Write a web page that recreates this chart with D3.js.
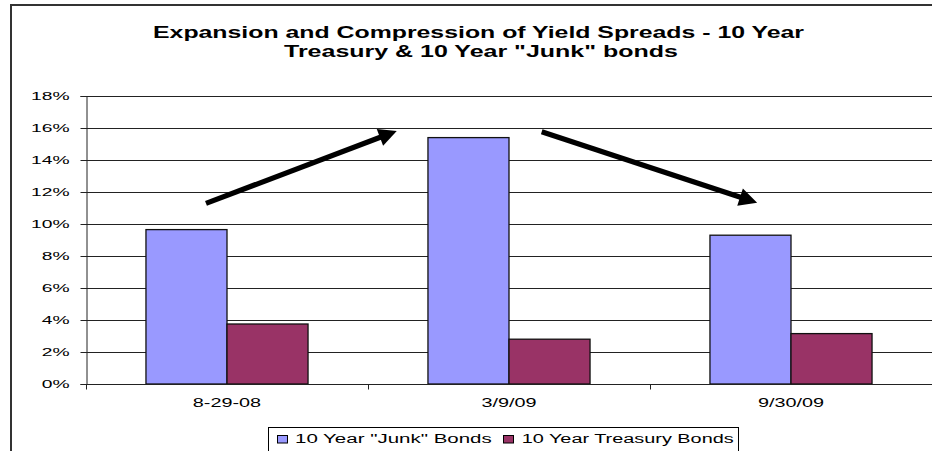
<!DOCTYPE html>
<html>
<head>
<meta charset="utf-8">
<script src="https://cdn.jsdelivr.net/npm/d3@7"></script>
<style>
  html, body { margin: 0; padding: 0; background: #fff; }
  svg { display: block; font-family: "Liberation Sans", Arial, sans-serif; }
</style>
</head>
<body>
<svg id="chart" width="932" height="451"></svg>
<script>
// ---- data ----
const categories = ["8-29-08", "3/9/09", "9/30/09"];
const seriesNames = ["10 Year \"Junk\" Bonds", "10 Year Treasury Bonds"];
const junkValues = [0.0965, 0.154, 0.093];
const treasuryValues = [0.0375, 0.028, 0.0315];
const yTicks = [0, 0.02, 0.04, 0.06, 0.08, 0.10, 0.12, 0.14, 0.16, 0.18];
const titleLines = ["Expansion and Compression of Yield Spreads - 10 Year", "Treasury & 10 Year \"Junk\" bonds"];
// annotation arrows in data space: [category position, value]
const arrowUp = [[0.4255, 0.1129], [1.102, 0.1581]];
const arrowDown = [[1.616, 0.1577], [2.380, 0.1133]];

const colors = ["#9999FF", "#993366"];

const svg = d3.select("#chart");

function stretch(sel, k) {
  sel.each(function () {
    const w = this.getComputedTextLength();
    d3.select(this).attr("textLength", w * k).attr("lengthAdjust", "spacingAndGlyphs");
  });
}

// outer frame (only top and left edges visible)
svg.append("rect")
  .attr("x", 11).attr("y", 5).attr("width", 1000).attr("height", 600)
  .attr("fill", "none").attr("stroke", "#333").attr("stroke-width", 2);

// scales
const x0 = d3.scaleBand().domain(categories).range([86, 932]).paddingInner(0).paddingOuter(0);
const x1 = d3.scaleBand().domain(seriesNames).range([0, x0.bandwidth()]).paddingInner(0).paddingOuter(0.74);
const xPos = d3.scaleLinear().domain([0, categories.length]).range([86, 932]);
const y = d3.scaleLinear().domain([0, 0.18]).range([384, 96]);

// gridlines
svg.append("g").selectAll("line").data(yTicks.slice(1)).join("line")
  .attr("x1", 86).attr("x2", 932)
  .attr("y1", d => Math.round(y(d)) + 0.5).attr("y2", d => Math.round(y(d)) + 0.5)
  .attr("stroke", "#222").attr("stroke-width", 1);

// bars
const rows = categories.map((c, i) => ({ cat: c, vals: [junkValues[i], treasuryValues[i]] }));
const grp = svg.append("g").selectAll("g").data(rows).join("g")
  .attr("transform", d => `translate(${x0(d.cat)},0)`);
grp.selectAll("rect").data(d => d.vals.map((v, j) => ({ name: seriesNames[j], v, j }))).join("rect")
  .attr("x", d => x1(d.name))
  .attr("y", d => y(d.v))
  .attr("width", x1.bandwidth())
  .attr("height", d => y(0) - y(d.v))
  .attr("fill", d => colors[d.j])
  .attr("stroke", "#111").attr("stroke-width", 1.3);

// y axis
const yAxis = svg.append("g").attr("transform", "translate(86.5,0)")
  .call(d3.axisLeft(y).tickValues(yTicks).tickFormat(d3.format(".0%")).tickSize(6).tickPadding(11));
yAxis.select(".domain").attr("stroke", "#222");
yAxis.selectAll(".tick line").attr("stroke", "#222");
yAxis.selectAll("text").attr("font-size", "11.6px").attr("fill", "#000")
  .attr("font-family", "'Liberation Sans', Arial, sans-serif");
stretch(yAxis.selectAll("text"), 1.66);

// x axis
const xAxis = svg.append("g").attr("transform", "translate(0,384.5)");
xAxis.append("line").attr("x1", 86).attr("x2", 932).attr("y1", 0).attr("y2", 0).attr("stroke", "#222");
xAxis.selectAll(".sep").data(d3.range(categories.length + 1)).join("line")
  .attr("class", "sep")
  .attr("x1", d => Math.round(xPos(d)) + 0.5).attr("x2", d => Math.round(xPos(d)) + 0.5)
  .attr("y1", 0).attr("y2", 5).attr("stroke", "#222");
const catLabels = xAxis.selectAll(".cat").data(categories).join("text")
  .attr("class", "cat")
  .attr("x", d => x0(d) + x0.bandwidth() / 2)
  .attr("y", 22.5)
  .attr("text-anchor", "middle")
  .attr("font-size", "12px")
  .text(d => d);
stretch(catLabels, 1.65);

// title
const titleWidths = [651, 394];
const titleX = [153, 284];
svg.append("g").selectAll("text").data(titleLines).join("text")
  .attr("x", (d, i) => titleX[i])
  .attr("y", (d, i) => 38 + i * 18.5)
  .attr("font-size", "16.5px").attr("font-weight", "bold")
  .attr("textLength", (d, i) => titleWidths[i]).attr("lengthAdjust", "spacingAndGlyphs")
  .text(d => d);

// arrows
[arrowUp, arrowDown].forEach(a => {
  const p0 = [xPos(a[0][0]), y(a[0][1])];
  const p1 = [xPos(a[1][0]), y(a[1][1])];
  const dx = p1[0] - p0[0], dy = p1[1] - p0[1];
  const L = Math.hypot(dx, dy);
  const s = (L - 12) / L;
  svg.append("line")
    .attr("x1", p0[0]).attr("y1", p0[1])
    .attr("x2", p0[0] + dx * s).attr("y2", p0[1] + dy * s)
    .attr("stroke", "#000").attr("stroke-width", 5.2);
  const ang = Math.atan2(dy, dx);
  const hl = 18, hw = 9;
  const bx = p1[0] - Math.cos(ang) * hl, by = p1[1] - Math.sin(ang) * hl;
  const nx = -Math.sin(ang), ny = Math.cos(ang);
  svg.append("path")
    .attr("d", `M${p1[0]},${p1[1]} L${bx + nx * hw},${by + ny * hw} L${bx - nx * hw},${by - ny * hw} Z`)
    .attr("fill", "#000");
});

// legend
const lg = svg.append("g");
lg.append("rect").attr("x", 268.5).attr("y", 427.5).attr("width", 470).attr("height", 30)
  .attr("fill", "#fff").attr("stroke", "#000").attr("stroke-width", 1);
const swX = [277, 503];
const txX = [295, 521.7];
const txW = [196.7, 212];
seriesNames.forEach((n, i) => {
  lg.append("rect").attr("x", swX[i] + 0.5).attr("y", 435.5).attr("width", 10).attr("height", 7.5)
    .attr("fill", colors[i]).attr("stroke", "#000").attr("stroke-width", 1);
  lg.append("text").attr("x", txX[i]).attr("y", 443)
    .attr("font-size", "12.5px")
    .attr("textLength", txW[i]).attr("lengthAdjust", "spacingAndGlyphs")
    .text(n);
});
</script>
</body>
</html>
